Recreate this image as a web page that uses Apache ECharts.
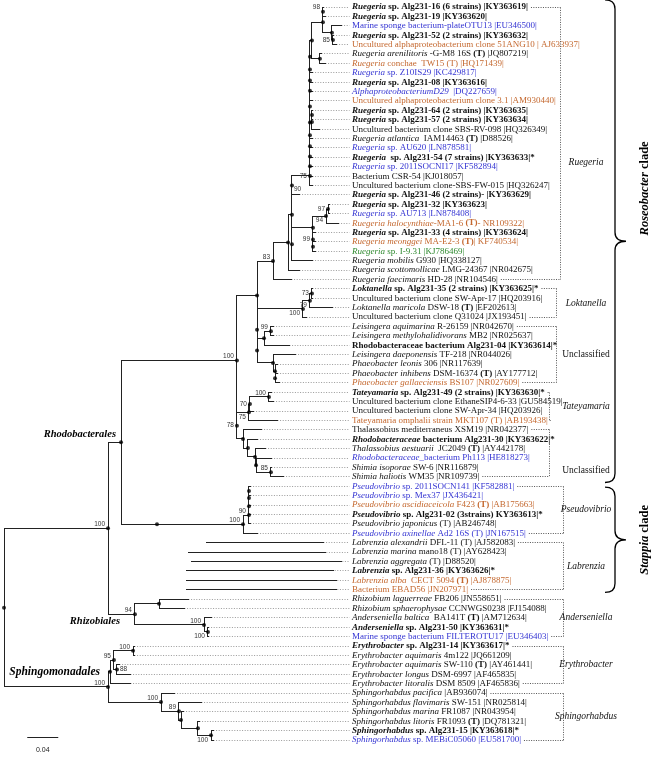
<!DOCTYPE html>
<html>
<head>
<meta charset="utf-8">
<script src="https://cdn.jsdelivr.net/npm/echarts@6.0.0/dist/echarts.min.js"></script>
<style>
html,body{margin:0;padding:0;background:#fff;}
#chart{width:657px;height:762px;}
</style>
</head>
<body>
<div id="chart"></div>
<script>
// ================= DATA =================
// Leaf labels (top to bottom), rich-text markup: n normal, i italic, b bold, bi bold italic
const leafLabels = [
'{bi|Ruegeria}{b| sp. Alg231-16 (6 strains) |KY363619|}',
'{bi|Ruegeria}{b| sp. Alg231-19 |KY363620|}',
'{n|Marine sponge bacterium-plateOTU13 |EU346500|}',
'{bi|Ruegeria}{b| sp. Alg231-52 (2 strains) |KY363632|}',
'{n|Uncultured alphaproteobacterium clone 51ANG10 | AJ633937|}',
'{i|Ruegeria arenilitoris}{n| -G-M8 16S }{b|(T)}{n| |JQ807219|}',
'{i|Ruegeria}{n| conchae  TW15 (T) |HQ171439|}',
'{i|Ruegeria}{n| sp. Z10IS29 |KC429817|}',
'{bi|Ruegeria}{b| sp. Alg231-08 |KY363616|}',
'{i|AlphaproteobacteriumD29}{n|  |DQ227659|}',
'{n|Uncultured alphaproteobacterium clone 3.1 |AM930440|}',
'{bi|Ruegeria}{b| sp. Alg231-64 (2 strains) |KY363635|}',
'{bi|Ruegeria}{b| sp. Alg231-57 (2 strains) |KY363634|}',
'{n|Uncultured bacterium clone SBS-RV-098 |HQ326349|}',
'{i|Ruegeria atlantica}{n|  IAM14463 }{b|(T)}{n| |D88526|}',
'{i|Ruegeria}{n| sp. AU620 |LN878581|}',
'{bi|Ruegeria}{b|  sp. Alg231-54 (7 strains) |KY363633|*}',
'{i|Ruegeria}{n| sp. 2011SOCNI17 |KF582894|}',
'{n|Bacterium CSR-54 |KJ018057|}',
'{n|Uncultured bacterium clone-SBS-FW-015 |HQ326247|}',
'{bi|Ruegeria}{b| sp. Alg231-46 (2 strains)- |KY363629|}',
'{bi|Ruegeria}{b| sp. Alg231-32 |KY363623|}',
'{i|Ruegeria}{n| sp. AU713 |LN878408|}',
'{i|Ruegeria halocynthiae}{n|-MA1-6 }{b|(T)}{n|- NR109322|}',
'{bi|Ruegeria}{b| sp. Alg231-33 (4 strains) |KY363624|}',
'{i|Ruegeria meonggei}{n| MA-E2-3 }{b|(T)}{n|| KF740534|}',
'{i|Ruegeria}{n| sp. I-9.31 |KJ786469|}',
'{i|Ruegeria mobilis}{n| G930 |HQ338127|}',
'{i|Ruegeria scottomollicae}{n| LMG-24367 |NR042675|}',
'{i|Ruegeria faecimaris}{n| HD-28 |NR104546|}',
'{bi|Loktanella}{b| sp. Alg231-35 (2 strains) |KY363625|*}',
'{n|Uncultured bacterium clone SW-Apr-17 |HQ203916|}',
'{i|Loktanella maricola}{n| DSW-18 }{b|(T)}{n| |EF202613|}',
'{n|Uncultured bacterium clone Q31024 |JX193451|}',
'{i|Leisingera aquimarina}{n| R-26159 |NR042670|}',
'{i|Leisingera methylohalidivorans}{n| MB2 |NR025637|}',
'{b|Rhodobacteraceae bacterium Alg231-04 |KY363614|*}',
'{i|Leisingera daeponensis}{n| TF-218 |NR044026|}',
'{i|Phaeobacter leonis}{n| 306 |NR117639|}',
'{i|Phaeobacter inhibens}{n| DSM-16374 }{b|(T)}{n| |AY177712|}',
'{i|Phaeobacter gallaeciensis}{n| BS107 |NR027609|}',
'{bi|Tateyamaria}{b| sp. Alg231-49 (2 strains) |KY363630|*}',
'{n|Uncultured bacterium clone EthaneSIP4-6-33 |GU584519|}',
'{n|Uncultured bacterium clone SW-Apr-34 |HQ203926|}',
'{n|Tateyamaria omphalii strain MKT107 (T) |AB193438|}',
'{n|Thalassobius mediterraneus XSM19 |NR042377|}',
'{bi|Rhodobacteraceae}{b| bacterium Alg231-30 |KY363622|*}',
'{i|Thalassobius aestuarii}{n|  JC2049 }{b|(T)}{n| |AY442178|}',
'{i|Rhodobacteraceae}{n|_bacterium Ph113 |HE818273|}',
'{i|Shimia isoporae}{n| SW-6 |NR116879|}',
'{i|Shimia haliotis}{n| WM35 |NR109739|}',
'{i|Pseudovibrio}{n| sp. 2011SOCN141 |KF582881|}',
'{i|Pseudovibrio}{n| sp. Mex37 |JX436421|}',
'{i|Pseudovibrio ascidiaceicola}{n| F423 }{b|(T)}{n| |AB175663|}',
'{bi|Pseudovibrio}{b| sp. Alg231-02 (3strains) KY363613|*}',
'{i|Pseudovibrio japonicus}{n| (T) |AB246748|}',
'{i|Pseudovibrio axinellae}{n| Ad2 16S (T) |JN167515|}',
'{i|Labrenzia alexandrii}{n| DFL-11 (T) |AJ582083|}',
'{i|Labrenzia marina}{n| mano18 (T) |AY628423|}',
'{i|Labrenzia aggregata}{n| (T) |D88520|}',
'{bi|Labrenzia}{b| sp. Alg231-36 |KY363626|*}',
'{i|Labrenzia alba}{n|  CECT 5094 }{b|(T)}{n| |AJ878875|}',
'{n|Bacterium EBAD56 |JN207971|}',
'{i|Rhizobium laguerreae}{n| FB206 |JN558651|}',
'{i|Rhizobium sphaerophysae}{n| CCNWGS0238 |FJ154088|}',
'{i|Anderseniella baltica}{n|  BA141T }{b|(T)}{n| |AM712634|}',
'{bi|Anderseniella}{b| sp. Alg231-50 |KY363631|*}',
'{n|Marine sponge bacterium FILTEROTU17 |EU346403|}',
'{bi|Erythrobacter}{b| sp. Alg231-14 |KY363617|*}',
'{i|Erythrobacter aquimaris}{n| 4m122 |JQ661209|}',
'{i|Erythrobacter aquimaris}{n| SW-110 }{b|(T)}{n| |AY461441|}',
'{i|Erythrobacter longus}{n| DSM-6997 |AF465835|}',
'{i|Erythrobacter litoralis}{n| DSM 8509 |AF465836|}',
'{i|Sphingorhabdus pacifica}{n| |AB936074|}',
'{i|Sphingorhabdus flavimaris}{n| SW-151 |NR025814|}',
'{i|Sphingorhabdus marina}{n| FR1087 |NR043954|}',
'{i|Sphingorhabdus litoris}{n| FR1093 }{b|(T)}{n| |DQ781321|}',
'{bi|Sphingorhabdus}{b| sp. Alg231-15 |KY363618|*}',
'{i|Sphingorhabdus}{n| sp. MEBiC05060 |EU581700|}'
];

// Source category of each leaf: k this study/other, b sponge-derived, o type/other, g other
const leafColors = ['k','k','b','k','o','k','o','b','k','b','o','k','k','k','k','b','k','b','k','k',
'k','k','b','o','k','o','g','k','k','k','k','k','k','k','k','k','k','k','k','k',
'o','k','k','k','o','k','k','k','b','k','k','b','b','o','k','k','b','k','k','k',
'k','o','o','k','k','k','k','b','k','k','k','k','k','k','k','k','k','k','b'];

// Internal nodes: [name, parent, depth from root (subst./site), bootstrap]
const treeNodes = [
['root',null,0,null],
['RR','root',0.1342,100],
['Rhodo','RR',0.1510,null],
['Roseo','Rhodo',0.3006,100],
['U','Roseo',0.3265,null],
['R83','U',0.3471,83],
['A','R83',0.3665,null],
['B','A',0.3716,null],
['G','B',0.3716,90],
['c20','G',0.3948,75],
['c19','c20',0.3948,null],
['c18','c19',0.3948,null],
['c17','c18',0.3948,null],
['c16','c17',0.3948,null],
['c15','c16',0.3948,null],
['c12','c15',0.3948,null],
['c11','c12',0.3948,null],
['c10','c11',0.3948,null],
['c9','c10',0.3948,null],
['c8','c9',0.3948,null],
['Top','c8',0.3974,null],
['X2','Top',0.4116,null],
['X98','X2',0.4116,98],
['X3','X2',0.4232,null],
['X85','X3',0.4245,85],
['N67','Top',0.4077,null],
['N1214','c12',0.3974,null],
['N1213','N1214',0.3974,null],
['H','B',0.3716,null],
['E1','H',0.3987,null],
['E94','E1',0.4155,94],
['E97','E94',0.4181,97],
['F99','E1',0.3987,99],
['F2','F99',0.3987,null],
['V','U',0.3265,null],
['Lok100','V',0.3858,100],
['Lok79','Lok100',0.3948,79],
['Lok73','Lok79',0.3974,73],
['W','V',0.3265,null],
['Lei','W',0.3355,null],
['Lei99','Lei',0.3445,99],
['Q0','W',0.3471,null],
['Q1','Q0',0.3497,null],
['Q2','Q1',0.3497,null],
['R78','Roseo',0.3006,78],
['T75','R78',0.3161,75],
['T70','T75',0.3174,70],
['T100','T70',0.3419,100],
['T0','R78',0.3084,null],
['T1','T0',0.3148,null],
['T2','T1',0.3239,null],
['T3','T2',0.3252,null],
['T85','T3',0.3445,85],
['Stappia','Rhodo',0.1974,null],
['P0','Stappia',0.3084,100],
['P1','P0',0.3161,90],
['P2','P1',0.3161,null],
['P3','P2',0.3161,null],
['P4','P3',0.3161,null],
['L0','Stappia',0.2297,100],
['L1','L0',0.2297,100],
['L2','L1',0.2335,null],
['L3','L2',0.2335,84],
['L4','L3',0.2335,90],
['Rhizo','RR',0.1690,94],
['Rhiz','Rhizo',0.2000,null],
['And1','Rhizo',0.2581,100],
['And2','And1',0.2632,100],
['Sphingo','root',0.1342,100],
['Ery','Sphingo',0.1368,null],
['Ery95','Ery',0.1419,95],
['Ery100','Ery95',0.1665,100],
['Ery88','Ery95',0.1458,88],
['Sph','Sphingo',0.2026,100],
['Sa','Sph',0.2258,89],
['Sb','Sa',0.2284,null],
['Sc','Sb',0.2503,null],
['Sd','Sc',0.2671,100]
];

// Parent node of each leaf, and depth of each leaf tip
const leafParents = ['X98','X98','X3','X85','X85','N67','N67','c8','c9','c10','c11','N1213','N1213','N1214','c15','c16','c17','c18','c19','c20',
'G','E97','E97','E94','F99','F2','F2','H','A','R83','Lok73','Lok73','Lok79','Lok100','Lei99','Lei99','Lei','Q0','Q1','Q2',
'Q2','T100','T100','T70','T75','T0','T1','T2','T3','T85','T85','P4','P4','P3','P2','P1','P0','L0','L1','L2',
'L3','L4','L4','Rhiz','Rhiz','And1','And2','And2','Ery100','Ery100','Ery88','Ery88','Ery','Sph','Sa','Sb','Sc','Sd','Sd'];
const leafDepths = [0.4129,0.4142,0.4361,0.4258,0.4284,0.4103,0.4142,0.3987,0.3987,0.3987,
0.3987,0.3987,0.3987,0.4077,0.3987,0.3987,0.3987,0.3987,0.3987,0.3987,
0.3819,0.4206,0.4206,0.4310,0.4013,0.4013,0.4013,0.3987,0.3819,0.3716,
0.3987,0.3987,0.4245,0.3897,0.3471,0.3471,0.3690,0.3755,0.3523,0.3523,
0.3561,0.3458,0.3471,0.3213,0.3523,0.3329,0.3277,0.3368,0.3458,0.3458,
0.3600,0.3187,0.3187,0.3187,0.3187,0.3187,0.3277,0.2619,0.2387,0.2413,
0.2361,0.2361,0.2361,0.2387,0.2323,0.2671,0.2645,0.2645,0.1690,0.1690,
0.1484,0.1626,0.1626,0.2194,0.2542,0.2310,0.2529,0.2697,0.2697];

// Genus groups (1-based leaf ranges)
const groupNames = ['Ruegeria','Loktanella','Unclassified','Tateyamaria','Unclassified','Pseudovibrio','Labrenzia','Anderseniella','Erythrobacter','Sphingorhabdus'];
const groupItalic = [true,true,false,true,false,true,true,true,true,true];
const groupFirst = [1,31,35,42,46,52,58,64,69,74];
const groupLast  = [30,34,41,45,51,57,63,68,73,79];

// Clades (1-based leaf ranges)
const cladeNames = ['Roseobacter','Stappia'];
const cladeFirst = [1,52];
const cladeLast  = [51,63];

// Order labels attached to nodes
const orderNodes = ['Rhodo','Rhizo','Sphingo'];
const orderNames = ['Rhodobacterales','Rhizobiales','Sphingomonadales'];

const scaleBarLength = 0.04;

// ================= LAYOUT =================
const PX_PER_UNIT = 775;           // 0.04 -> 31 px
const LEFT_PX = 4;
const u = px => (px - LEFT_PX) / PX_PER_UNIT;
const X_MAX = u(657);
const LABEL_X = u(352);
const LEADER_END = u(349);
const BOX_RIGHT = [560,556,556,549,549,563,563,563,563,563].map(u);
const GROUP_LABEL_X = u(586);
const GROUP_LABEL_ROW = {0: 16.6, 4: 49.3};
const BRACE_X0 = u(605), BRACE_X1 = u(615), BRACE_X2 = u(626), CLADE_TEXT_X = u(645);
const CLADE_PAD = [[-0.75, 0.6],[0.1, 0.3]];
const CLADE_TEXT_ROW = {0: 19.3};
const SCALE_START = 0.03, SCALE_ROW = 77.7, SCALE_TEXT_ROW = 79.1;
const SUPPORT_SIDE = {X85:'l', c20:'l', G:'br', E94:'bl', E97:'l', F99:'l', Lok100:'bl', Lok79:'bl', Lok73:'l',
  R78:'l', T75:'bl', T70:'l', L1:'l', L3:'l', L4:'l', And2:'bl', Ery88:'r', Sd:'bl'};
const ORDER_OFFSET = {Rhodo:[-5,-8,10.5], Rhizo:[-15,7,10.5], Sphingo:[-8,-15,11.5]};

const COLORS = {k:'#111111', b:'#3434d2', o:'#c4682f', g:'#2f8a2f'};
const SERIF = '"Liberation Serif", "Times New Roman", serif';
const SANS = '"Liberation Sans", Arial, sans-serif';
const LEAF_FS = 9;

// ================= TREE BUILD =================
const nodes = {};
treeNodes.forEach(([name,parent,depth,support]) => {
  nodes[name] = {name, parent, depth, support, children: [], leaf: false};
});
leafParents.forEach((p, i) => {
  const n = {name: 'L' + i, parent: p, depth: leafDepths[i], leaf: true, row: i, children: []};
  nodes[n.name] = n;
});
Object.values(nodes).forEach(n => { if (n.parent) nodes[n.parent].children.push(n); });
function computeRow(n) {
  if (n.leaf) return n.row;
  const rs = n.children.map(computeRow);
  n.minRow = Math.min(...rs); n.maxRow = Math.max(...rs);
  n.row = (n.minRow + n.maxRow) / 2;
  return n.row;
}
computeRow(nodes.root);

const treeSegs = [], leaderSegs = [], dotData = [], supportData = [];
Object.values(nodes).forEach(n => {
  if (n.parent) treeSegs.push([nodes[n.parent].depth, n.row, n.depth, n.row]);
  if (!n.leaf) {
    treeSegs.push([n.depth, n.minRow, n.depth, n.maxRow]);
    dotData.push([n.depth, n.row]);
    if (n.support != null) supportData.push([n.depth, n.row, n.support, n.name]);
  } else {
    leaderSegs.push([n.depth, n.row, LEADER_END, n.row]);
  }
});

// ================= TEXT HELPERS =================
function tokenFont(s, fs) {
  const st = (s === 'i' || s === 'bi') ? 'italic ' : '';
  const wt = (s === 'b' || s === 'bi') ? 'bold ' : '';
  return st + wt + fs + 'px ' + SERIF;
}
function richFor(color, fs) {
  const r = {};
  ['n','i','b','bi'].forEach(s => {
    r[s] = {fontStyle: (s === 'i' || s === 'bi') ? 'italic' : 'normal',
            fontWeight: (s === 'b' || s === 'bi') ? 'bold' : 'normal',
            fontSize: fs, fontFamily: SERIF, fill: color};
  });
  return r;
}
const mctx = document.createElement('canvas').getContext('2d');
function measureRich(str, fs) {
  let w = 0;
  str.replace(/\{(\w+)\|([^}]*)\}/g, (m, s, t) => { mctx.font = tokenFont(s, fs); w += mctx.measureText(t).width; return m; });
  return w;
}
const labelWidths = leafLabels.map(l => measureRich(l, LEAF_FS));

const snap = v => Math.round(v - 0.5) + 0.5;
function lineRenderer(style) {
  return function (params, api) {
    const a = api.coord([api.value(0), api.value(1)]);
    const b = api.coord([api.value(2), api.value(3)]);
    return {type: 'line', silent: true,
      shape: {x1: snap(a[0]), y1: snap(a[1]), x2: snap(b[0]), y2: snap(b[1])}, style};
  };
}

// ================= CHART =================
const chart = echarts.init(document.getElementById('chart'), null, {renderer: 'canvas'});
chart.setOption({
  animation: false,
  backgroundColor: '#ffffff',
  grid: {left: LEFT_PX, top: 7, width: 653, height: 733, containLabel: false},
  xAxis: {type: 'value', min: 0, max: X_MAX, show: false},
  yAxis: {type: 'value', min: 0, max: 78, inverse: true, show: false},
  series: [
    { // leaders
      type: 'custom', coordinateSystem: 'cartesian2d', clip: false, silent: true,
      encode: {x: [0, 2], y: [1, 3]}, data: leaderSegs,
      renderItem: lineRenderer({stroke: '#9a9a9a', lineWidth: 1, lineDash: [1, 1.6]})
    },
    { // tree branches
      type: 'custom', coordinateSystem: 'cartesian2d', clip: false, silent: true,
      encode: {x: [0, 2], y: [1, 3]}, data: treeSegs,
      renderItem: lineRenderer({stroke: '#222', lineWidth: 1, lineCap: 'square'})
    },
    { // node dots
      type: 'scatter', data: dotData, symbol: 'circle', symbolSize: 4, silent: true, clip: false,
      itemStyle: {color: '#000'}
    },
    { // bootstrap values
      type: 'custom', coordinateSystem: 'cartesian2d', clip: false, silent: true,
      encode: {x: 0, y: 1}, data: supportData,
      renderItem(params, api) {
        const p = api.coord([api.value(0), api.value(1)]);
        const d = supportData[params.dataIndex];
        const side = SUPPORT_SIDE[d[3]] || 'tl';
        let x = p[0] - 3, y = p[1] - 4, align = 'right';
        if (side === 'l') { y = p[1]; }
        else if (side === 'bl') { y = p[1] + 4.5; }
        else if (side === 'r') { x = p[0] + 3; align = 'left'; y = p[1]; }
        else if (side === 'br') { x = p[0] + 2; align = 'left'; y = p[1] + 3.5; }
        return {type: 'text', x, y, silent: true,
          style: {text: String(d[2]), font: '6.5px ' + SANS, fill: '#333', textAlign: align, textVerticalAlign: 'middle', verticalAlign: 'middle'}};
      }
    },
    { // order labels
      type: 'custom', coordinateSystem: 'cartesian2d', clip: false, silent: true,
      encode: {x: 0, y: 1},
      data: orderNodes.map((n, k) => [nodes[n].depth, nodes[n].row, k]),
      renderItem(params, api) {
        const k = api.value(2);
        const p = api.coord([api.value(0), api.value(1)]);
        const off = ORDER_OFFSET[orderNodes[k]];
        return {type: 'text', x: p[0] + off[0], y: p[1] + off[1], silent: true,
          style: {text: orderNames[k], font: 'italic bold ' + off[2] + 'px ' + SERIF, fill: '#000', textAlign: 'right', verticalAlign: 'middle'}};
      }
    },
    { // leaf labels
      type: 'custom', coordinateSystem: 'cartesian2d', clip: false, silent: true,
      encode: {x: 0, y: 1},
      data: leafLabels.map((_, i) => [LABEL_X, i, i]),
      renderItem(params, api) {
        const i = api.value(2);
        const p = api.coord([api.value(0), api.value(1)]);
        const c = COLORS[leafColors[i]];
        return {type: 'text', x: p[0], y: p[1], silent: true,
          style: {text: leafLabels[i], rich: richFor(c, LEAF_FS), fill: c, font: LEAF_FS + 'px ' + SERIF,
            textAlign: 'left', verticalAlign: 'middle'}};
      }
    },
    { // group boxes
      type: 'custom', coordinateSystem: 'cartesian2d', clip: false, silent: true,
      encode: {x: 0, y: 1},
      data: groupNames.map((_, g) => [BOX_RIGHT[g], groupFirst[g] - 1, g]),
      renderItem(params, api) {
        const g = api.value(2);
        const f = groupFirst[g] - 1, l = groupLast[g] - 1;
        const right = snap(api.coord([api.value(0), f])[0]);
        const yT = snap(api.coord([0, f])[1]), yB = snap(api.coord([0, l])[1]);
        const lx = api.coord([LABEL_X, f])[0];
        const eT = lx + labelWidths[f] + 3, eB = lx + labelWidths[l] + 3;
        const st = {stroke: '#555', lineWidth: 1, lineDash: [1, 1.4]};
        const row = GROUP_LABEL_ROW[g] != null ? GROUP_LABEL_ROW[g] : (f + l) / 2;
        const tp = api.coord([GROUP_LABEL_X, row]);
        return {type: 'group', silent: true, children: [
          {type: 'line', shape: {x1: eT, y1: yT, x2: right, y2: yT}, style: st},
          {type: 'line', shape: {x1: right, y1: yT, x2: right, y2: yB}, style: st},
          {type: 'line', shape: {x1: eB, y1: yB, x2: right, y2: yB}, style: st},
          {type: 'text', x: tp[0], y: tp[1], style: {text: groupNames[g],
            font: (groupItalic[g] ? 'italic ' : '') + '9.5px ' + SERIF, fill: '#111', textAlign: 'center', verticalAlign: 'middle'}}
        ]};
      }
    },
    { // clade braces
      type: 'custom', coordinateSystem: 'cartesian2d', clip: false, silent: true,
      encode: {x: 0, y: 1},
      data: cladeNames.map((_, c) => [BRACE_X0, cladeFirst[c] - 1, c]),
      renderItem(params, api) {
        const c = api.value(2);
        const top = api.coord([0, cladeFirst[c] - 1 + CLADE_PAD[c][0]])[1];
        const bot = api.coord([0, cladeLast[c] - 1 + CLADE_PAD[c][1]])[1];
        const mid = (top + bot) / 2;
        const x0 = api.coord([BRACE_X0, 0])[0], x1 = api.coord([BRACE_X1, 0])[0], x2 = api.coord([BRACE_X2, 0])[0];
        const r = 9;
        const d = `M${x0},${top} Q${x1},${top} ${x1},${top + r} L${x1},${mid - r} Q${x1},${mid} ${x2},${mid} ` +
                  `Q${x1},${mid} ${x1},${mid + r} L${x1},${bot - r} Q${x1},${bot} ${x0},${bot}`;
        const trow = CLADE_TEXT_ROW[c];
        const ty = trow != null ? api.coord([0, trow])[1] : mid;
        const tx = api.coord([CLADE_TEXT_X, 0])[0];
        return {type: 'group', silent: true, children: [
          {type: 'path', shape: {pathData: d}, style: {stroke: '#000', fill: null, lineWidth: 1.3}},
          {type: 'text', x: tx, y: ty, rotation: Math.PI / 2, style: {
            text: '{bi|' + cladeNames[c] + '}{b| clade}',
            rich: {bi: {fontStyle: 'italic', fontWeight: 'bold', fontSize: 12.5, fontFamily: SERIF, fill: '#000'},
                   b: {fontStyle: 'normal', fontWeight: 'bold', fontSize: 12.5, fontFamily: SERIF, fill: '#000'}},
            textAlign: 'center', verticalAlign: 'middle'}}
        ]};
      }
    },
    { // scale bar
      type: 'custom', coordinateSystem: 'cartesian2d', clip: false, silent: true,
      encode: {x: [0, 2], y: [1, 3]},
      data: [[SCALE_START, SCALE_ROW, SCALE_START + scaleBarLength, SCALE_ROW]],
      renderItem(params, api) {
        const a = api.coord([api.value(0), api.value(1)]);
        const b = api.coord([api.value(2), api.value(3)]);
        const t = api.coord([(api.value(0) + api.value(2)) / 2, SCALE_TEXT_ROW]);
        return {type: 'group', silent: true, children: [
          {type: 'line', shape: {x1: a[0], y1: snap(a[1]), x2: b[0], y2: snap(b[1])}, style: {stroke: '#222', lineWidth: 1}},
          {type: 'text', x: t[0], y: t[1], style: {text: String(scaleBarLength), font: '7px ' + SANS, fill: '#222', textAlign: 'center', verticalAlign: 'middle'}}
        ]};
      }
    }
  ]
});
</script>
</body>
</html>
